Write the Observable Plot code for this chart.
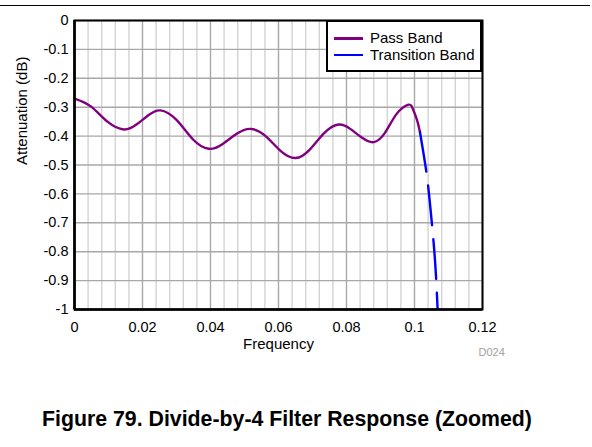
<!DOCTYPE html>
<html>
<head>
<meta charset="utf-8">
<script src="https://cdn.jsdelivr.net/npm/d3@7"></script>
<script src="https://cdn.jsdelivr.net/npm/@observablehq/plot@0.6"></script>
<style>
  html, body { margin: 0; padding: 0; background: #fff; }
  #wrap { position: relative; width: 592px; height: 447px; font-family: "Liberation Sans", Arial, sans-serif; }
  #toprule { position: absolute; left: 0; top: 4.5px; width: 590px; height: 1.4px; background: #000; }
  #chart { position: absolute; left: 0; top: 0; }
  #legend { position: absolute; left: 326px; top: 20px; width: 156px; height: 52px; box-sizing: border-box;
            border: 2px solid #000; background: #fff; font-size: 15px; }
  .item { position: absolute; left: 0; height: 18px; width: 150px; }
  .sw { position: absolute; left: 6px; top: 8px; width: 29px; height: 2.5px; }
  .lab { position: absolute; left: 42px; top: 0; line-height: 18px; white-space: nowrap; color: #000; }
  #caption { position: absolute; left: 0; top: 407px; width: 574px; text-align: center; font-weight: bold;
             font-size: 21.3px; line-height: 24px; color: #000; white-space: nowrap; }
</style>
</head>
<body>
<div id="wrap">
  <div id="toprule"></div>
  <div id="chart"></div>
  <div id="legend"></div>
  <div id="caption"></div>
</div>
<script>
// ---- data ----
const seriesNames = ["Pass Band", "Transition Band"];
const seriesColors = ["#800080", "#0000ff"];

const passFreq = [0, 0.0048, 0.0097, 0.0145, 0.0181, 0.0217, 0.0253, 0.0300, 0.0348, 0.0395, 0.0436, 0.0477, 0.0518, 0.0562, 0.0606, 0.0650, 0.0692, 0.0735, 0.0777, 0.0811, 0.0846, 0.0880, 0.0913, 0.0947, 0.0980, 0.0993, 0.1003, 0.1010, 0.1016];
const passAtt  = [-0.270, -0.297, -0.350, -0.377, -0.361, -0.328, -0.311, -0.344, -0.411, -0.444, -0.427, -0.392, -0.375, -0.400, -0.451, -0.476, -0.447, -0.389, -0.360, -0.375, -0.406, -0.421, -0.389, -0.324, -0.292, -0.300, -0.329, -0.355, -0.386];

const transFreq = [0.1016, 0.1035, 0.1046, 0.1056, 0.1063, 0.1068];
const transAtt  = [-0.386, -0.525, -0.640, -0.765, -0.880, -1.000];

const xTicks = [0, 0.02, 0.04, 0.06, 0.08, 0.1, 0.12];
const xMinorGrid = [0.004, 0.008, 0.012, 0.016, 0.024, 0.028, 0.032, 0.036, 0.044, 0.048, 0.052, 0.056, 0.064, 0.068, 0.072, 0.076, 0.084, 0.088, 0.092, 0.096, 0.104, 0.108, 0.112, 0.116];
const yTicks = [0, -0.1, -0.2, -0.3, -0.4, -0.5, -0.6, -0.7, -0.8, -0.9, -1];

const xLabel = "Frequency";
const yLabel = "Attenuation (dB)";
const docId = "D024";
const captionText = "Figure 79. Divide-by-4 Filter Response (Zoomed)";

// ---- build ----
const pass = passFreq.map((f, i) => ({f, a: passAtt[i]}));
const trans = transFreq.map((f, i) => ({f, a: transAtt[i]}));

const chart = Plot.plot({
  width: 592,
  height: 365,
  marginTop: 20,
  marginBottom: 56,
  marginLeft: 74,
  marginRight: 110,
  style: {fontFamily: "'Liberation Sans', Arial, sans-serif", fontSize: "14.5px", background: "transparent"},
  x: {domain: [0, 0.12]},
  y: {domain: [-1, 0]},
  marks: [
    Plot.gridX(xMinorGrid, {stroke: "#d4d4d4", strokeOpacity: 1, strokeWidth: 1.4}),
    Plot.gridX(xTicks, {stroke: "#a8a8a8", strokeOpacity: 1, strokeWidth: 1.4}),
    Plot.gridY(yTicks, {stroke: "#a8a8a8", strokeOpacity: 1, strokeWidth: 1.4}),
    Plot.axisX({ticks: xTicks, tickSize: 0, tickPadding: 12, tickFormat: d => String(d), label: null}),
    Plot.axisY({ticks: yTicks, tickSize: 0, tickPadding: 6, tickFormat: d => String(d), label: null}),
    Plot.line(pass, {x: "f", y: "a", stroke: seriesColors[0], strokeWidth: 2.4, curve: "natural", clip: true}),
    Plot.line(trans, {x: "f", y: "a", stroke: seriesColors[1], strokeWidth: 2.4, curve: "natural", strokeDasharray: "40,14", clip: true}),
    Plot.frame({stroke: "#000", strokeWidth: 2}),
    Plot.ruleX([0], {stroke: "#000", strokeWidth: 2.6}),
    Plot.ruleY([-1], {stroke: "#000", strokeWidth: 2.6}),
    Plot.text([yLabel], {text: d => d, frameAnchor: "left", lineAnchor: "middle", dx: -52, rotate: -90, fontSize: 15, fill: "#000"}),
    Plot.text([xLabel], {text: d => d, frameAnchor: "bottom", lineAnchor: "middle", dy: 34.5, fontSize: 15, fill: "#000"}),
    Plot.text([docId], {text: d => d, frameAnchor: "bottom-right", lineAnchor: "middle", textAnchor: "start", dx: -4, dy: 43, fontSize: 11, fill: "#a0a0a0"})
  ]
});
document.getElementById("chart").appendChild(chart);

// legend
const legend = document.getElementById("legend");
seriesNames.forEach((name, i) => {
  const row = document.createElement("div");
  row.className = "item";
  row.style.top = (7 + i * 16.6) + "px";
  const sw = document.createElement("div");
  sw.className = "sw";
  sw.style.background = seriesColors[i];
  const lab = document.createElement("div");
  lab.className = "lab";
  lab.textContent = name;
  row.appendChild(sw);
  row.appendChild(lab);
  legend.appendChild(row);
});

document.getElementById("caption").textContent = captionText;
</script>
</body>
</html>
